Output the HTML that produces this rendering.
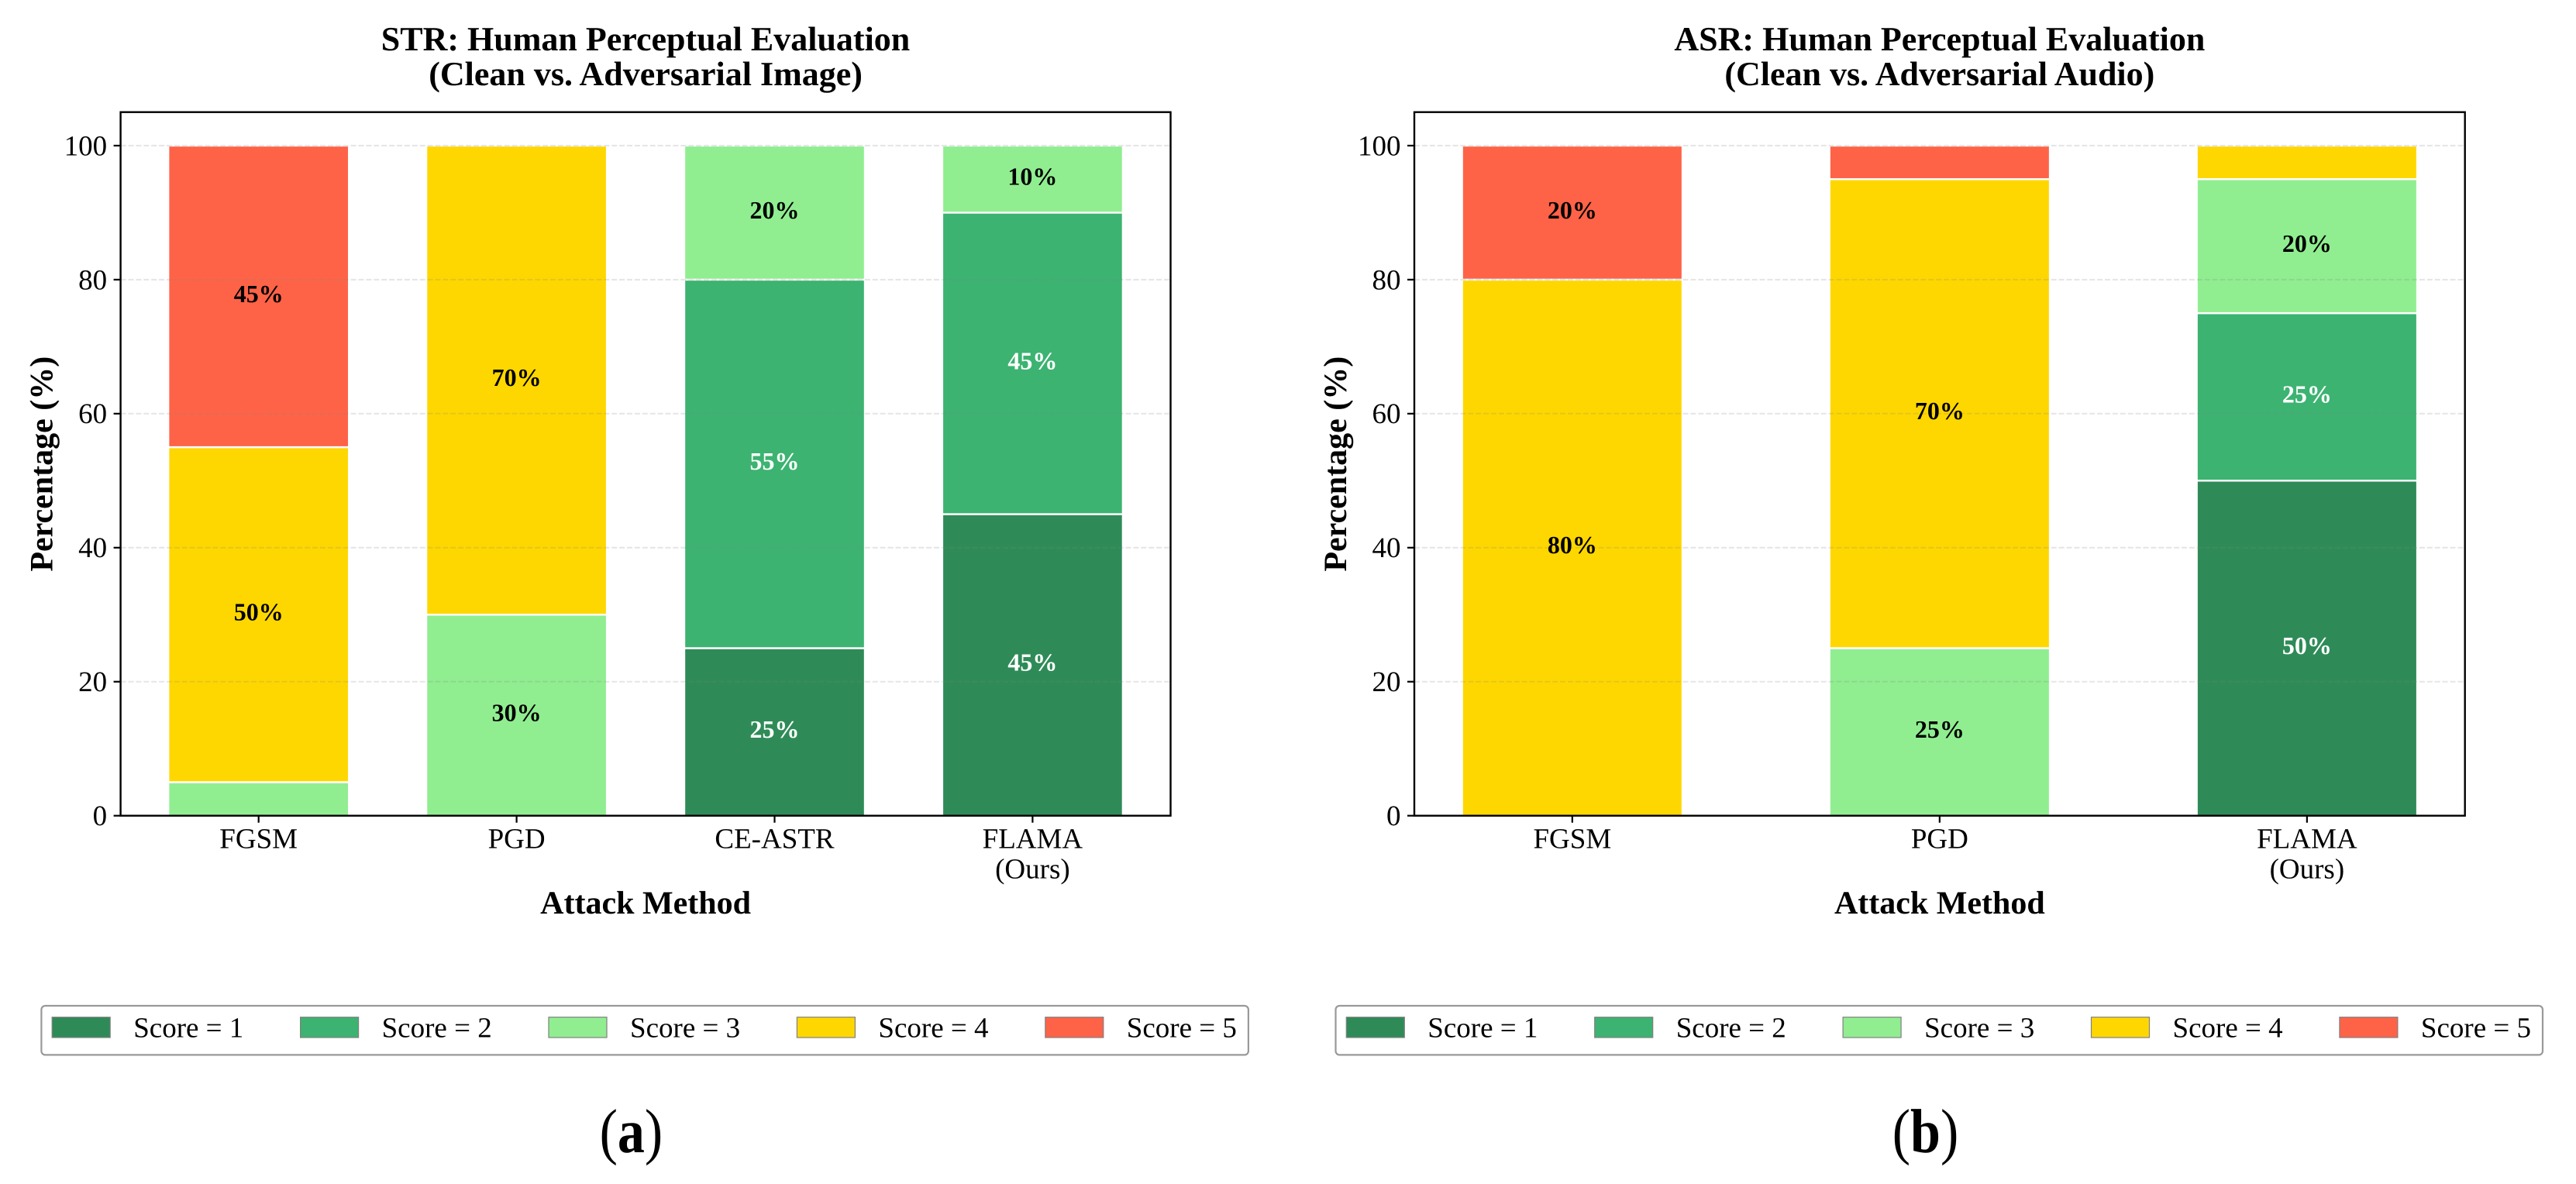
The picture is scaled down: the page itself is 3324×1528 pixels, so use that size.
<!DOCTYPE html>
<html lang="en">
<head>
<meta charset="utf-8">
<title>Human Perceptual Evaluation</title>
<style>
html,body{margin:0;padding:0;background:#fff;}
body{width:3324px;height:1528px;overflow:hidden;}
svg{display:block;}
text{font-family:"Liberation Serif","Times New Roman",serif;fill:#000;text-rendering:geometricPrecision;}
</style>
</head>
<body>
<svg id="figure" xmlns="http://www.w3.org/2000/svg" width="3324" height="1528" viewBox="0 0 3324 1528"></svg>
<script>
// ---- Chart data ----
const scoreLabels = ['Score = 1', 'Score = 2', 'Score = 3', 'Score = 4', 'Score = 5'];
const scoreColors = ['#2E8B57', '#3CB371', '#90EE90', '#FFD700', '#FF6347'];
const yTicks = [0, 20, 40, 60, 80, 100];

const strCategories = [['FGSM'], ['PGD'], ['CE-ASTR'], ['FLAMA', '(Ours)']];
const strScore1 = [0, 0, 25, 45];
const strScore2 = [0, 0, 55, 45];
const strScore3 = [5, 30, 20, 10];
const strScore4 = [50, 70, 0, 0];
const strScore5 = [45, 0, 0, 0];

const asrCategories = [['FGSM'], ['PGD'], ['FLAMA', '(Ours)']];
const asrScore1 = [0, 0, 50];
const asrScore2 = [0, 0, 25];
const asrScore3 = [0, 25, 20];
const asrScore4 = [80, 70, 5];
const asrScore5 = [20, 5, 0];

// ---- Rendering ----
const SVG_NS = 'http://www.w3.org/2000/svg';
const root = document.getElementById('figure');
const Y_TOP = 144.7, Y_BOTTOM = 1052.7, Y_MAX = 105;
const yScale = v => Y_BOTTOM - (v / Y_MAX) * (Y_BOTTOM - Y_TOP);

function make(tag, attrs, parent, content) {
  const node = document.createElementNS(SVG_NS, tag);
  for (const k in attrs) node.setAttribute(k, attrs[k]);
  if (content !== undefined) node.textContent = content;
  (parent || root).appendChild(node);
  return node;
}

function drawPanel(cfg) {
  const g = make('g', {});
  
  

  const n = cfg.categories.length;
  const plotW = cfg.right - cfg.left;
  const cx = (cfg.left + cfg.right) / 2;
  const step = plotW / ((n - 1 + cfg.barWidth) * 1.1);
  const xScale = i => cx + (i - (n - 1) / 2) * step;

  // title
  cfg.title.forEach((line, i) => {
    const t = make('text', {x: cx, y: 65 + i * 45, 'text-anchor': 'middle', 'font-size': 44, 'font-weight': 'bold'}, g, line);
    
    
  });

  // bars
  const baseline = cfg.categories.map(() => 0);
  cfg.series.forEach((vals, s) => {
    vals.forEach((v, i) => {
      if (v <= 0) return;
      const y0 = yScale(baseline[i]);
      const y1 = yScale(baseline[i] + v);
      const r = make('rect', {
        x: xScale(i) - cfg.barWidth * step / 2, y: y1,
        width: cfg.barWidth * step, height: y0 - y1,
        fill: scoreColors[s], stroke: '#fff', 'stroke-width': 2.4
      }, g);
      
      
      baseline[i] += v;
    });
  });

  // grid
  yTicks.slice(1).forEach(v => {
    const l = make('line', {
      x1: cfg.left, x2: cfg.right, y1: yScale(v), y2: yScale(v),
      stroke: '#808080', 'stroke-opacity': 0.2, 'stroke-width': 2.1, 'stroke-dasharray': '7 2.9'
    }, g);
    
    
  });

  // value labels
  const stack = cfg.categories.map(() => 0);
  cfg.series.forEach((vals, s) => {
    vals.forEach((v, i) => {
      if (v >= 10) {
        const t = make('text', {
          x: xScale(i), y: yScale(stack[i] + v / 2) + 7.4,
          'text-anchor': 'middle', 'font-size': 32, 'font-weight': 'bold'
        }, g, v + '%');
        t.style.fill = s < 2 ? '#fff' : '#000';
        
        
      }
      stack[i] += v;
    });
  });

  // frame
  const frame = make('rect', {x: cfg.left, y: Y_TOP, width: plotW, height: Y_BOTTOM - Y_TOP, fill: 'none', stroke: '#000', 'stroke-width': 2.4}, g);
  
  

  // y ticks
  yTicks.forEach(v => {
    const tk = make('line', {x1: cfg.left - 9, x2: cfg.left, y1: yScale(v), y2: yScale(v), stroke: '#000', 'stroke-width': 2.2}, g);
    
    
    const t = make('text', {x: cfg.left - 17.5, y: yScale(v) + 12.4, 'text-anchor': 'end', 'font-size': 37}, g, String(v));
    
    
  });

  // x ticks
  cfg.categories.forEach((cat, i) => {
    const tk = make('line', {x1: xScale(i), x2: xScale(i), y1: Y_BOTTOM, y2: Y_BOTTOM + 9, stroke: '#000', 'stroke-width': 2.2}, g);
    
    
    cat.forEach((line, j) => {
      const t = make('text', {x: xScale(i), y: 1094.6 + j * 39, 'text-anchor': 'middle', 'font-size': 37}, g, line);
      
      
    });
  });

  // axis titles
  const xt = make('text', {x: cx, y: 1178.8, 'text-anchor': 'middle', 'font-size': 42, 'font-weight': 'bold'}, g, 'Attack Method');
  
  
  const yty = (Y_TOP + Y_BOTTOM) / 2;
  const yt = make('text', {x: 0, y: 0, transform: 'translate(' + (cfg.left - 88) + ',' + yty + ') rotate(-90)', 'text-anchor': 'middle', 'font-size': 42, 'font-weight': 'bold'}, g, 'Percentage (%)');
  
  

  // legend
  const lg = make('g', {}, g);
  
  
  const box = make('rect', {x: cfg.legendX, y: 1298, width: 1557.5, height: 63.4, rx: 5, ry: 5, fill: '#fff', stroke: '#999', 'stroke-width': 2.2}, lg);
  
  
  scoreLabels.forEach((label, s) => {
    const hx = cfg.legendX + 13.8 + s * 320.4;
    const h = make('rect', {x: hx, y: 1312.7, width: 75, height: 26.3, fill: scoreColors[s], stroke: '#808080', 'stroke-width': 1.2}, lg);
    
    
    const t = make('text', {x: hx + 105, y: 1338.6, 'font-size': 37}, lg, label);
    
    
  });

  // caption
  const cap = make('text', {transform: 'translate(' + cfg.captionX + ',1487) scale(1,1.15)', x: 0, y: 0, 'text-anchor': 'middle', 'font-size': 70}, g);
  
  
  cap.appendChild(document.createTextNode('('));
  make('tspan', {'font-weight': 'bold'}, cap, cfg.captionLetter);
  cap.appendChild(document.createTextNode(')'));
}

drawPanel({
  id: 'str', left: 155.6, right: 1510.5, barWidth: 0.7, legendX: 53.4, captionX: 814.4, captionLetter: 'a',
  title: ['STR: Human Perceptual Evaluation', '(Clean vs. Adversarial Image)'],
  categories: strCategories,
  series: [strScore1, strScore2, strScore3, strScore4, strScore5]
});
drawPanel({
  id: 'asr', left: 1825, right: 3180.7, barWidth: 0.6, legendX: 1723.5, captionX: 2484.5, captionLetter: 'b',
  title: ['ASR: Human Perceptual Evaluation', '(Clean vs. Adversarial Audio)'],
  categories: asrCategories,
  series: [asrScore1, asrScore2, asrScore3, asrScore4, asrScore5]
});
</script>
</body>
</html>
